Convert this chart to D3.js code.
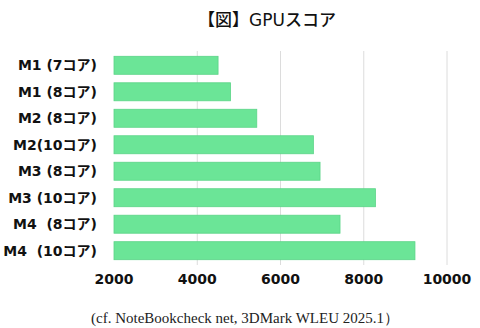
<!DOCTYPE html>
<html>
<head>
<meta charset="utf-8">
<script src="https://cdn.jsdelivr.net/npm/d3@7"></script>
<style>
  body { margin: 0; background: #fff; }
  text { font-family: "DejaVu Sans", "Noto Sans CJK JP", sans-serif; }
</style>
</head>
<body>
<svg id="chart"></svg>
<script>
const W = 480, H = 328
const margins = { top: 51, bottom: 63, left: 114, right: 33 }

// data
const chips = ["M1 (7コア)", "M1 (8コア)", "M2 (8コア)", "M2(10コア)", "M3 (8コア)", "M3 (10コア)", "M4  (8コア)", "M4  (10コア)"]
const scores = [4500, 4800, 5430, 6790, 6950, 8280, 7430, 9230]
const ticks = [2000, 4000, 6000, 8000, 10000]

const svg = d3.select("#chart").attr("width", W).attr("height", H)

const x = d3.scaleLinear()
    .domain([2000, 10000])
    .range([margins.left, W - margins.right])

const y = d3.scaleBand()
    .domain(chips)
    .range([margins.top, H - margins.bottom])
    .paddingInner(0.32)
    .paddingOuter(0.2)

// gridlines
svg.append("g")
    .selectAll("line")
    .data(ticks.slice(1))
    .enter().append("line")
      .attr("x1", d => x(d)).attr("x2", d => x(d))
      .attr("y1", margins.top).attr("y2", H - margins.bottom)
      .attr("stroke", "#dcdcdc")
      .attr("stroke-width", 1)

// bars
svg.append("g")
    .selectAll("rect")
    .data(scores)
    .enter().append("rect")
      .attr("x", x(2000))
      .attr("y", (d, i) => y(chips[i]))
      .attr("width", d => x(d) - x(2000))
      .attr("height", y.bandwidth())
      .attr("fill", "#6be597")
      .attr("stroke", "#5bd487")
      .attr("stroke-width", 0.8)

// category labels
svg.append("g")
    .selectAll("text")
    .data(chips)
    .enter().append("text")
      .attr("x", 97)
      .attr("y", d => y(d) + y.bandwidth() / 2)
      .attr("dy", "0.36em")
      .attr("text-anchor", "end")
      .attr("font-size", "14px")
      .attr("font-weight", 700)
      .style("white-space", "pre")
      .attr("fill", "#111")
      .text(d => d)

// x tick labels
svg.append("g")
    .selectAll("text")
    .data(ticks)
    .enter().append("text")
      .attr("x", d => x(d))
      .attr("y", 279)
      .attr("dy", "0.36em")
      .attr("text-anchor", "middle")
      .attr("font-size", "14px")
      .attr("font-weight", 700)
      .attr("fill", "#111")
      .text(d => d)

// title
svg.append("text")
    .attr("x", 267)
    .attr("y", 20)
    .attr("dy", "0.36em")
    .attr("text-anchor", "middle")
    .attr("font-size", "17px")
    .attr("font-weight", 500)
    .attr("fill", "#111")
    .text("【図】GPUスコア")

// source note
svg.append("text")
    .attr("x", 245)
    .attr("y", 318)
    .attr("dy", "0.35em")
    .attr("text-anchor", "middle")
    .attr("font-size", "15px")
    .style("font-family", "'Liberation Serif', 'DejaVu Serif', serif")
    .attr("fill", "#222")
    .text("(cf. NoteBookcheck net, 3DMark WLEU 2025.1）")
</script>
</body>
</html>
